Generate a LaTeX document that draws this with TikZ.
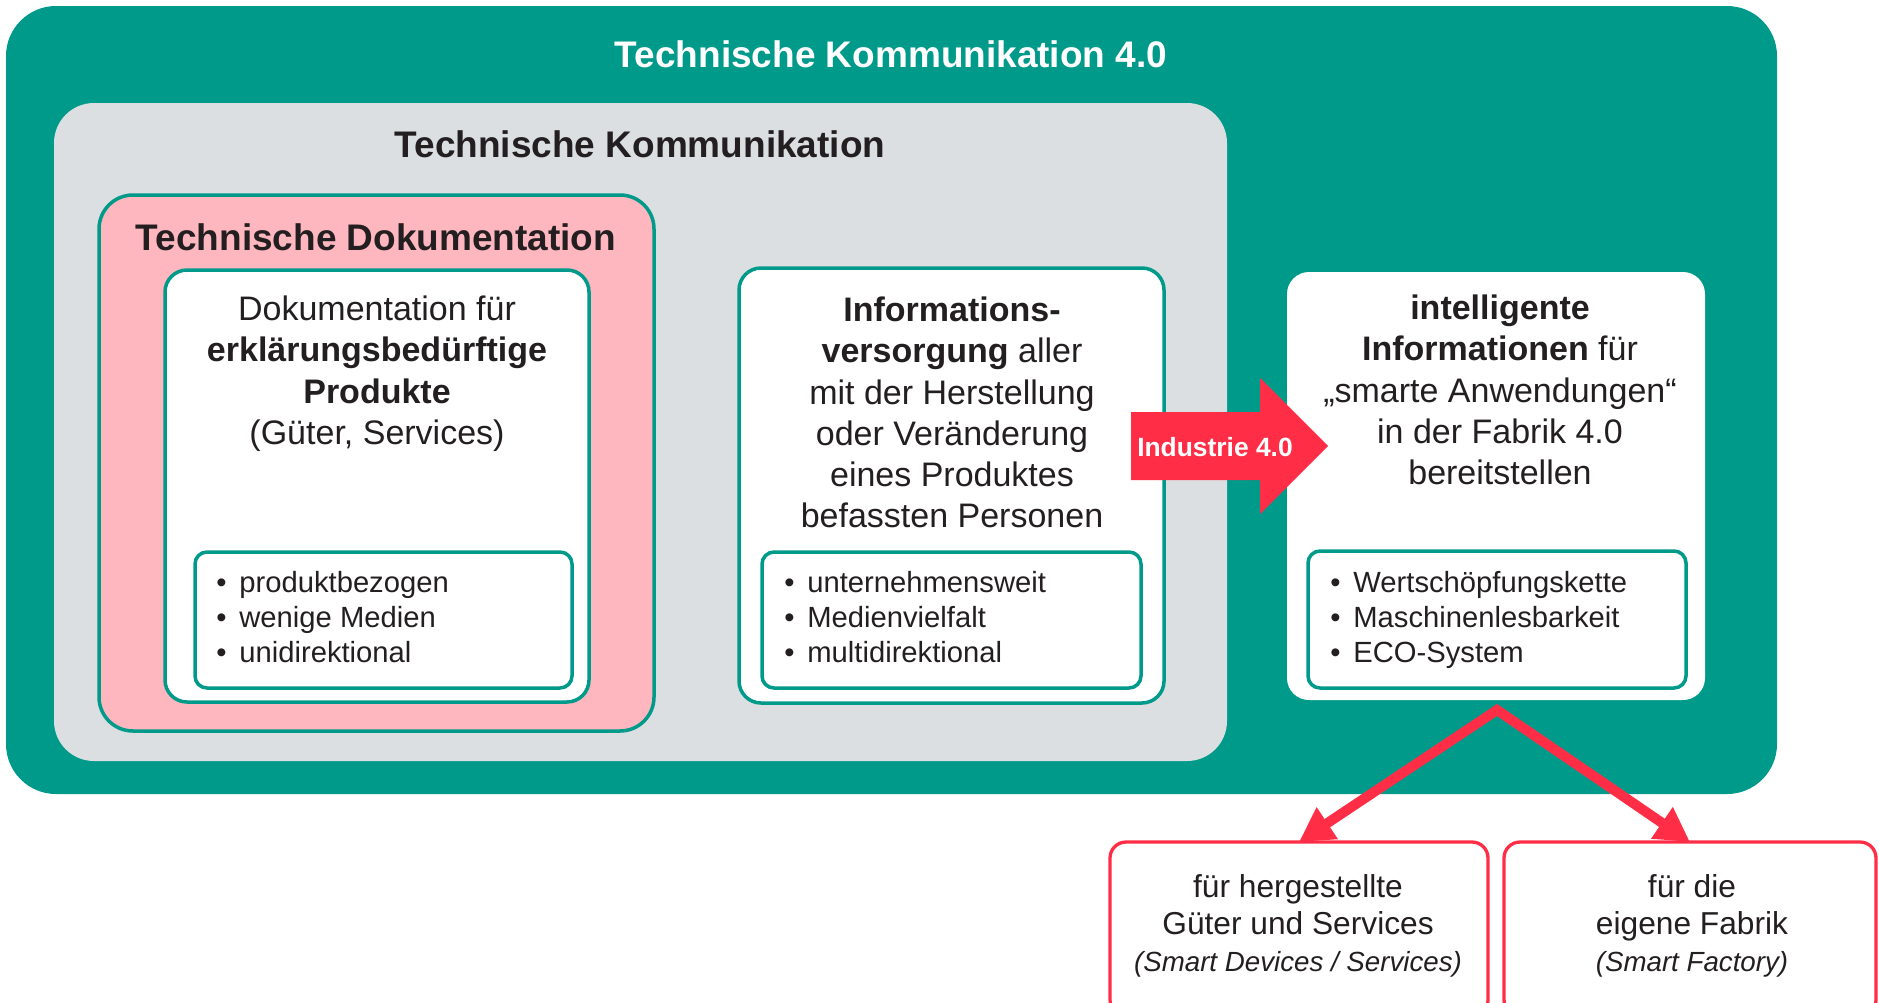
\documentclass[tikz,border=0pt]{standalone}
\usepackage{fontspec}
\setmainfont{Liberation Sans}
\usetikzlibrary{arrows.meta}
\definecolor{tealK}{RGB}{0,154,138}
\definecolor{grayK}{RGB}{220,223,226}
\definecolor{pinkD}{RGB}{255,183,191}
\definecolor{redI}{RGB}{255,45,70}
\definecolor{txt}{RGB}{35,31,32}
\newcommand\tstrut[1]{\rule{0pt}{#1}}
\newcommand\bul{\makebox[11.5pt][l]{\textbullet}}
\begin{document}
\begin{tikzpicture}[x=0.5pt,y=-0.5pt,
  panel/.style={rectangle, inner sep=0pt, outer sep=0pt},
  tealbox/.style={panel, draw=tealK, line width=1.75pt, fill=white},
  redbox/.style={panel, draw=redI, line width=1.65pt, fill=white, rounded corners=8pt},
  bodytext/.style={inner sep=0pt, align=center, text=txt, anchor=north, font=\fontsize{17}{20.65}\selectfont},
  smalltext/.style={inner sep=0pt, align=center, text=txt, anchor=north, font=\fontsize{15.85}{18.5}\selectfont},
  listtext/.style={inner sep=0pt, align=left, text=txt, anchor=north west, font=\fontsize{14.6}{17.5}\selectfont},
  titletext/.style={inner sep=0pt, anchor=base, font=\bfseries\fontsize{18.5}{22}\selectfont},
  redarrow/.style={draw=redI, line width=5pt, line join=miter}
]
\useasboundingbox (0,0) rectangle (1879,1002);
\clip (0,0) rectangle (1879,1002);

% outer frame
\node[panel, fill=tealK, rounded corners=25pt, minimum width=885.5pt, minimum height=394pt] (outer) at (891.5,400) {};
\node[titletext, text=white] (t0) at (891,67) {Technische Kommunikation 4.0};

% gray frame
\node[panel, fill=grayK, rounded corners=20pt, minimum width=586.5pt, minimum height=329pt] (gray) at (640.5,432) {};
\node[titletext, text=txt] (t1) at (640,157) {Technische Kommunikation};

% pink frame
\node[panel, fill=pinkD, draw=tealK, line width=1.75pt, rounded corners=17pt, minimum width=277.5pt, minimum height=268pt] (pink) at (376.5,463) {};
\node[titletext, text=txt] (t2) at (376,250) {Technische Dokumentation};

% box 1
\node[tealbox, rounded corners=11pt, minimum width=212pt, minimum height=216pt] (w1) at (377,486) {};
\node[bodytext] (w1t) at (377,280) {\tstrut{20pt}Dokumentation für\\\textbf{erklärungsbedürftige}\\\textbf{Produkte}\\(Güter, Services)};
\node[tealbox, rounded corners=6pt, minimum width=188.5pt, minimum height=68pt] (l1) at (383.5,620) {};
\node[listtext] (l1t) at (216,562) {\tstrut{15pt}\bul produktbezogen\\\bul wenige Medien\\\bul unidirektional};

% box 2
\node[tealbox, rounded corners=11pt, minimum width=212.5pt, minimum height=217.5pt] (w2) at (951.5,485.5) {};
\node[bodytext] (w2t) at (952,281) {\tstrut{20pt}\textbf{Informations-}\\\textbf{versorgung} aller\\mit der Herstellung\\oder Veränderung\\eines Produktes\\befassten Personen};
\node[tealbox, rounded corners=6pt, minimum width=189.5pt, minimum height=68pt] (l2) at (951.5,620) {};
\node[listtext] (l2t) at (784,562) {\tstrut{15pt}\bul unternehmensweit\\\bul Medienvielfalt\\\bul multidirektional};

% box 3
\node[panel, fill=white, rounded corners=11pt, minimum width=209pt, minimum height=214pt] (w3) at (1496,486) {};
\node[bodytext] (w3t) at (1500,279) {\tstrut{20pt}\textbf{intelligente}\\\textbf{Informationen} für\\„smarte Anwendungen“\\in der Fabrik 4.0\\bereitstellen};
\node[tealbox, rounded corners=6pt, minimum width=189pt, minimum height=68.5pt] (l3) at (1497,619.5) {};
\node[listtext] (l3t) at (1330,562) {\tstrut{15pt}\bul Wertschöpfungskette\\\bul Maschinenlesbarkeit\\\bul ECO-System};

% Industrie 4.0 arrow
\fill[redI] (1131,412) -- (1260,412) -- (1260,378) -- (1328,446) -- (1260,514) -- (1260,480) -- (1131,480) -- cycle;
\node[inner sep=0pt, anchor=base, text=white, font=\bfseries\fontsize{13.2}{16}\selectfont] (ind) at (1215,456) {Industrie 4.0};

% bottom boxes
\node[redbox, minimum width=189pt, minimum height=87pt] (b1) at (1299,929) {};
\node[smalltext] (b1t) at (1298,861) {\tstrut{18pt}für hergestellte\\Güter und Services\\{\fontsize{13.85}{18.5}\selectfont\itshape (Smart Devices / Services)}};
\node[redbox, minimum width=186pt, minimum height=87pt] (b2) at (1690,929) {};
\node[smalltext] (b2t) at (1692,861) {\tstrut{18pt}für die\\eigene Fabrik\\{\fontsize{13.85}{18.5}\selectfont\itshape (Smart Factory)}};

% red connectors
\coordinate (apex) at (1497,710);
\draw[redarrow, {Triangle[length=17pt,width=18pt]}-{Triangle[length=17pt,width=18pt]}] (b1.north) -- (apex) -- (b2.north);
\end{tikzpicture}
\end{document}
